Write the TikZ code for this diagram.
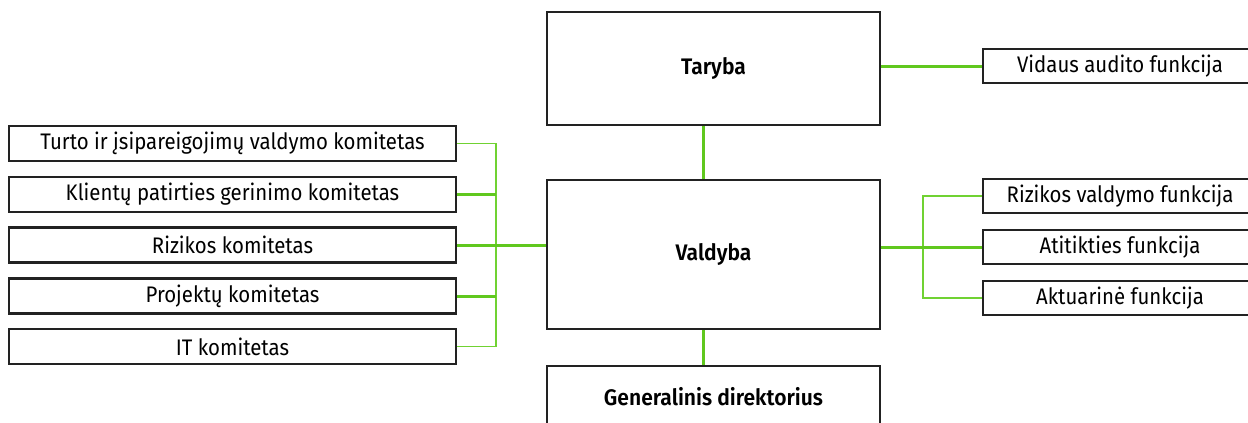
\documentclass[tikz,border=0pt]{standalone}
\usepackage{fontspec}
\setmainfont[FakeStretch=0.907,BoldFont={Fira Sans SemiBold},BoldFeatures={FakeStretch=0.936}]{Fira Sans}
\definecolor{lgreen}{RGB}{96,200,30}
\definecolor{tgreen}{RGB}{112,210,50}
\definecolor{boxline}{RGB}{34,34,34}
\begin{document}
\begin{tikzpicture}[x=1pt,y=-1pt,
  box/.style={draw=boxline,line width=2.3pt,fill=white,inner sep=0pt,
    font=\fontsize{22.5}{26}\selectfont,text=black},
  mainbox/.style={box,minimum width=333pt,font=\fontsize{22.5}{26}\selectfont\bfseries},
  leftbox/.style={box,minimum width=447pt,minimum height=35pt},
  rightbox/.style={box,minimum width=274pt,minimum height=34pt},
  thickcon/.style={draw=lgreen,line width=3pt},
  thincon/.style={draw=tgreen,line width=1.6pt}]
\useasboundingbox (0,0) rectangle (1248,423);
\clip (0,0) rectangle (1248,423);
% main boxes
\node[mainbox,minimum height=113pt] (T) at (713.5,68.5) {Taryba};
\node[mainbox,minimum height=149pt] (V) at (713.5,254.5) {Valdyba};
\node[mainbox,minimum height=64pt] (G) at (713.5,398) {};
\node[font=\fontsize{22.5}{26}\selectfont\bfseries] (Gt) at (713.5,397) {Generalinis direktorius};
% left boxes
\node[leftbox] (L1) at (232.5,143.5) {Turto ir įsipareigojimų valdymo komitetas};
\node[leftbox] (L2) at (232.5,194.5) {Klientų patirties gerinimo komitetas};
\node[leftbox] (L3) at (232.5,245) {Rizikos komitetas};
\node[leftbox] (L4) at (232.5,296) {Projektų komitetas};
\node[leftbox] (L5) at (232.5,346.5) {IT komitetas};
% right boxes
\node[rightbox] (A) at (1120,66) {Vidaus audito funkcija};
\node[rightbox] (R1) at (1120,196) {Rizikos valdymo funkcija};
\node[rightbox] (R2) at (1120,247) {Atitikties funkcija};
\node[rightbox] (R3) at (1120,298) {Aktuarinė funkcija};
% bus coordinates
\coordinate (lb) at (496,0);
\coordinate (rb) at (923,0);
\coordinate (vx) at (703,0);
% left connectors
\draw[thincon] (L1.east) -- (L1.east -| lb) -- (L5.east -| lb) -- (L5.east);
\draw[thickcon] (L2.east) -- (L2.east -| lb);
\draw[thickcon] (L3.east) -- (L3.east -| V.west);
\draw[thickcon] (L4.east) -- (L4.east -| lb);
% right connectors
\draw[thincon] (R1.west) -- (R1.west -| rb) -- (R3.west -| rb) -- (R3.west);
\draw[thickcon] (V.east |- R2.west) -- (R2.west);
% vertical connectors
\draw[thickcon] (T.south -| vx) -- (V.north -| vx);
\draw[thickcon] (V.south -| vx) -- (G.north -| vx);
\draw[thickcon] (T.east |- A.west) -- (A.west);
\end{tikzpicture}
\end{document}
